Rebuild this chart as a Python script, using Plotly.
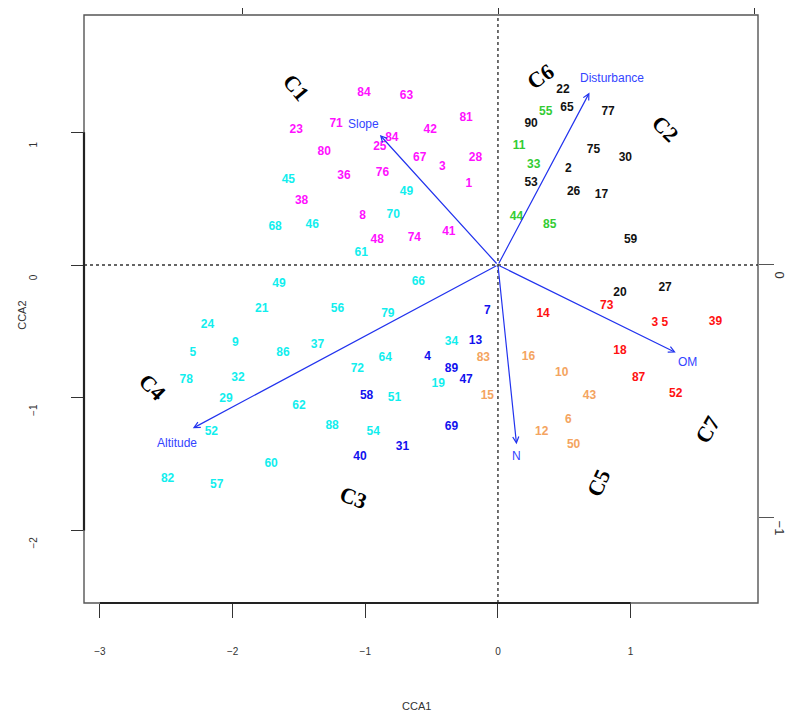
import plotly.graph_objects as go

# site scores (CCA1, CCA2) grouped by cluster
c1_sites = ["84", "63", "23", "71", "84", "42", "81", "25", "80", "67", "3", "28",
            "36", "76", "1", "38", "8", "48", "74", "41"]
c1_x = [-1.01, -0.69, -1.52, -1.22, -0.80, -0.51, -0.24, -0.89, -1.31, -0.59, -0.42, -0.17,
        -1.16, -0.87, -0.22, -1.48, -1.02, -0.91, -0.63, -0.37]
c1_y = [1.30, 1.27, 1.02, 1.06, 0.96, 1.02, 1.11, 0.89, 0.85, 0.81, 0.74, 0.81,
        0.67, 0.69, 0.61, 0.48, 0.37, 0.19, 0.20, 0.25]

c4_sites = ["45", "49", "70", "68", "46", "61", "49", "66", "21", "56", "79", "24", "9",
            "5", "86", "37", "64", "72", "34", "19", "78", "32", "29", "51", "62",
            "52", "88", "54", "60", "82", "57"]
c4_x = [-1.58, -0.69, -0.79, -1.68, -1.40, -1.03, -1.65, -0.60, -1.78, -1.21, -0.83, -2.19, -1.98,
        -2.30, -1.62, -1.36, -0.85, -1.06, -0.35, -0.45, -2.35, -1.96, -2.05, -0.78, -1.50,
        -2.16, -1.25, -0.94, -1.71, -2.49, -2.12]
c4_y = [0.64, 0.55, 0.38, 0.29, 0.30, 0.09, -0.14, -0.13, -0.33, -0.33, -0.37, -0.45, -0.59,
        -0.66, -0.66, -0.60, -0.70, -0.78, -0.58, -0.90, -0.87, -0.85, -1.01, -1.00, -1.06,
        -1.26, -1.21, -1.26, -1.50, -1.61, -1.66]

c3_sites = ["7", "13", "4", "89", "47", "58", "69", "31", "40"]
c3_x = [-0.08, -0.17, -0.53, -0.35, -0.24, -0.99, -0.35, -0.72, -1.04]
c3_y = [-0.35, -0.57, -0.69, -0.78, -0.87, -0.99, -1.22, -1.37, -1.45]

c5_sites = ["83", "15", "16", "10", "43", "6", "12", "50"]
c5_x = [-0.11, -0.08, 0.23, 0.48, 0.69, 0.53, 0.33, 0.57]
c5_y = [-0.70, -0.99, -0.69, -0.81, -0.99, -1.17, -1.26, -1.36]

c7_sites = ["73", "14", "3 5", "39", "18", "87", "52"]
c7_x = [0.82, 0.34, 1.22, 1.64, 0.92, 1.06, 1.34]
c7_y = [-0.31, -0.37, -0.44, -0.43, -0.65, -0.85, -0.97]

c2_sites = ["22", "65", "77", "90", "75", "30", "2", "53", "26", "17", "59", "20", "27"]
c2_x = [0.49, 0.52, 0.83, 0.25, 0.72, 0.96, 0.53, 0.25, 0.57, 0.78, 1.00, 0.92, 1.26]
c2_y = [1.32, 1.18, 1.15, 1.06, 0.87, 0.81, 0.72, 0.62, 0.55, 0.53, 0.19, -0.21, -0.17]

c6_sites = ["55", "11", "33", "44", "85"]
c6_x = [0.36, 0.16, 0.27, 0.14, 0.39]
c6_y = [1.15, 0.90, 0.75, 0.36, 0.30]

# environmental vectors
env_names = ["Slope", "Disturbance", "OM", "N", "Altitude"]
env_x = [-0.89, 0.69, 1.34, 0.14, -2.30]
env_y = [0.98, 1.30, -0.66, -1.35, -1.23]
env_lab_x = [-1.01, 0.86, 1.43, 0.14, -2.42]
env_lab_y = [1.06, 1.41, -0.73, -1.44, -1.34]

# cluster names
clu_names = ["C1", "C6", "C2", "C4", "C3", "C5", "C7"]
clu_x = [-1.52, 0.32, 1.26, -2.60, -1.09, 0.76, 1.58]
clu_y = [1.34, 1.42, 1.03, -0.92, -1.75, -1.64, -1.24]
clu_angle = [50, -35, 45, 45, 20, -65, -60]

groups = [
    (c1_sites, c1_x, c1_y, "#FF11FF"),
    (c4_sites, c4_x, c4_y, "#11EEEE"),
    (c3_sites, c3_x, c3_y, "#1111EE"),
    (c5_sites, c5_x, c5_y, "#F4A460"),
    (c7_sites, c7_x, c7_y, "#FF1111"),
    (c2_sites, c2_x, c2_y, "#111111"),
    (c6_sites, c6_x, c6_y, "#33CC33"),
]

fig = go.Figure()
for sites, xs, ys, col in groups:
    fig.add_trace(go.Scatter(
        x=xs, y=ys, text=sites, mode="text",
        textfont=dict(family="Liberation Sans", size=12, color=col, weight="bold"),
        showlegend=False, hoverinfo="skip",
    ))

# empty trace so the secondary (top/right) axes get drawn
fig.add_trace(go.Scatter(x=[0], y=[0], xaxis="x2", yaxis="y2", mode="markers",
                         marker=dict(opacity=0), showlegend=False, hoverinfo="skip"))

ann = []
for name, ex, ey, lx, ly in zip(env_names, env_x, env_y, env_lab_x, env_lab_y):
    ann.append(dict(x=ex, y=ey, ax=0, ay=0, xref="x", yref="y", axref="x", ayref="y",
                    text="", showarrow=True, arrowhead=5, arrowsize=1, arrowwidth=1.2,
                    arrowcolor="#2233EE", standoff=0, startstandoff=0))
    ann.append(dict(x=lx, y=ly, xref="x", yref="y", text=name, showarrow=False,
                    font=dict(family="Liberation Sans", size=12, color="#3344FF")))
for name, cx, cy, ang in zip(clu_names, clu_x, clu_y, clu_angle):
    ann.append(dict(x=cx, y=cy, xref="x", yref="y", text=name, showarrow=False,
                    textangle=ang,
                    font=dict(family="Liberation Serif", size=22, color="black",
                              weight="bold")))

# axis titles
ann.append(dict(x=0.494, y=-0.189, xref="paper", yref="paper", text="CCA1",
                showarrow=False, font=dict(family="Liberation Sans", size=11, color="#333")))
ann.append(dict(x=-0.104, y=0.49, xref="paper", yref="paper", text="CCA2",
                showarrow=False, textangle=-90,
                font=dict(family="Liberation Sans", size=11, color="#333")))

shapes = [
    # plot frame
    dict(type="rect", xref="paper", yref="paper", x0=0, x1=1, y0=0, y1=1,
         line=dict(color="#555555", width=1.4)),
    # dotted zero lines
    dict(type="line", xref="x", yref="paper", x0=0, x1=0, y0=0, y1=1,
         line=dict(color="#333333", width=1.4, dash="dot")),
    dict(type="line", xref="paper", yref="y", x0=0, x1=1, y0=0, y1=0,
         line=dict(color="#333333", width=1.4, dash="dot")),
    # axis segments spanning the tick range
    dict(type="line", xref="x", yref="paper", x0=-3, x1=1, y0=0, y1=0,
         line=dict(color="#222222", width=2.2)),
    dict(type="line", xref="paper", yref="y", x0=0, x1=0, y0=-2, y1=1,
         line=dict(color="#222222", width=2.2)),
]

tick_font = dict(family="Liberation Sans", size=10, color="#333333")
fig.update_layout(
    width=789, height=705,
    margin=dict(l=76, r=39, t=7, b=110),
    plot_bgcolor="white", paper_bgcolor="white",
    annotations=ann, shapes=shapes,
    xaxis=dict(range=[-3.12, 1.96], tickvals=[-3, -2, -1, 0, 1], ticks="outside",
               ticklen=14, tickwidth=1.3, tickcolor="#333333", showgrid=False,
               zeroline=False, showline=False, tickfont=tick_font,
               ticklabelstandoff=25, automargin=False),
    yaxis=dict(range=[-2.547, 1.884], tickvals=[-2, -1, 0, 1], ticks="outside",
               ticklen=12, tickwidth=1.3, tickcolor="#333333", showgrid=False,
               zeroline=False, showline=False, tickfont=tick_font, tickangle=-90,
               ticklabelstandoff=30, ticklabelshift=14, automargin=False),
    xaxis2=dict(range=[-1.621, 1.012], tickvals=[-1, 0, 1], overlaying="x", side="top",
                ticks="outside", ticklen=13, tickwidth=1.3, tickcolor="#333333",
                showticklabels=False, showgrid=False, zeroline=False, showline=False,
                automargin=False),
    yaxis2=dict(range=[-1.336, 0.988], tickvals=[-1, 0], overlaying="y", side="right",
                ticks="outside", ticklen=15, tickwidth=1.3, tickcolor="#555555",
                showgrid=False, zeroline=False, showline=False, tickangle=90,
                tickfont=dict(family="Liberation Sans", size=13, color="#333333"),
                ticklabelstandoff=-4, ticklabelshift=12, automargin=False),
)

fig.write_html("out.html")
